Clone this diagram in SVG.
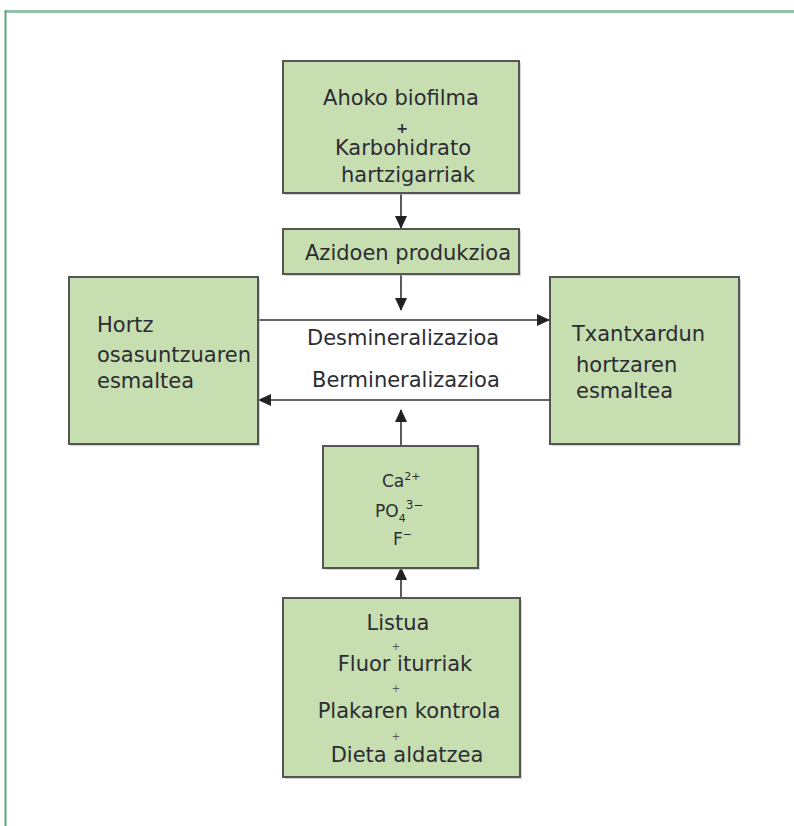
<svg xmlns="http://www.w3.org/2000/svg" width="794" height="826" viewBox="0 0 794 826">
<defs>
<marker id="ah" markerWidth="13" markerHeight="12" refX="12" refY="6" orient="auto" markerUnits="userSpaceOnUse">
<path d="M0,0 L13,6 L0,12 Z" fill="#222"/>
</marker>
</defs>
<style>
.box{fill:#c6deb0;stroke:#555;stroke-width:2}
.sh{fill:#aaa;opacity:0.5}
.t{font-family:"DejaVu Sans","Liberation Sans",sans-serif;font-size:21px;fill:#2c2c34}
.c{text-anchor:middle}
.pb{font-size:14px;font-weight:bold}
.ps{font-size:10px;fill:#555}
.ion{font-size:17px}
.con{stroke:#333;stroke-width:1.6;fill:none;marker-end:url(#ah)}
</style>
<rect x="0" y="0" width="794" height="826" fill="#fff"/>
<g id="frame">
<line x1="5" y1="11.5" x2="794" y2="11.5" stroke="#93c4a8" stroke-width="3"/>
<line x1="5.5" y1="10" x2="5.5" y2="826" stroke="#5ea57c" stroke-width="2"/>
</g>
<g id="connectors">
<line class="con" x1="401" y1="193" x2="401" y2="228"/>
<line class="con" x1="401" y1="274" x2="401" y2="310"/>
<line class="con" x1="259" y1="320" x2="549" y2="320"/>
<line class="con" x1="549" y1="400" x2="259" y2="400"/>
<line class="con" x1="401" y1="446" x2="401" y2="410"/>
<line class="con" x1="401" y1="598" x2="401" y2="568"/>
</g>
<g id="n-top">
<rect class="sh" x="285" y="63" width="236" height="132"/>
<rect class="box" x="283" y="61" width="236" height="132"/>
<text class="t c" x="401" y="105">Ahoko biofilma</text>
<text class="t c pb" x="402" y="132.5">+</text>
<text class="t c" x="403" y="155">Karbohidrato</text>
<text class="t c" x="408" y="182">hartzigarriak</text>
</g>
<g id="n-azid">
<rect class="sh" x="285" y="231" width="236" height="45"/>
<rect class="box" x="283" y="229" width="236" height="45"/>
<text class="t" x="305" y="260">Azidoen produkzioa</text>
</g>
<g id="n-left">
<rect class="sh" x="71" y="279" width="189" height="167"/>
<rect class="box" x="69" y="277" width="189" height="167"/>
<text class="t" x="97" y="332">Hortz</text>
<text class="t" x="97" y="362">osasuntzuaren</text>
<text class="t" x="97" y="388">esmaltea</text>
</g>
<g id="n-right">
<rect class="sh" x="552" y="279" width="189" height="167"/>
<rect class="box" x="550" y="277" width="189" height="167"/>
<text class="t" x="572" y="341">Txantxardun</text>
<text class="t" x="576" y="372">hortzaren</text>
<text class="t" x="576" y="398">esmaltea</text>
</g>
<g id="labels">
<text class="t" x="307" y="345">Desmineralizazioa</text>
<text class="t" x="312" y="387">Bermineralizazioa</text>
</g>
<g id="n-ion">
<rect class="sh" x="325" y="448" width="155" height="122"/>
<rect class="box" x="323" y="446" width="155" height="122"/>
<text class="t ion" x="382" y="487">Ca<tspan dy="-7" font-size="11">2+</tspan></text>
<text class="t ion" x="375" y="517">PO<tspan dy="5" font-size="11">4</tspan><tspan dy="-13" font-size="12">3−</tspan></text>
<text class="t ion" x="393" y="545">F<tspan dy="-7" font-size="11">−</tspan></text>
</g>
<g id="n-bottom">
<rect class="sh" x="285" y="600" width="237" height="179"/>
<rect class="box" x="283" y="598" width="237" height="179"/>
<text class="t c" x="398" y="630">Listua</text>
<text class="t c ps" x="396" y="649.5">+</text>
<text class="t c" x="405" y="671">Fluor iturriak</text>
<text class="t c ps" x="396" y="692">+</text>
<text class="t c" x="409" y="718">Plakaren kontrola</text>
<text class="t c ps" x="396" y="740">+</text>
<text class="t c" x="407" y="762">Dieta aldatzea</text>
</g>
</svg>
